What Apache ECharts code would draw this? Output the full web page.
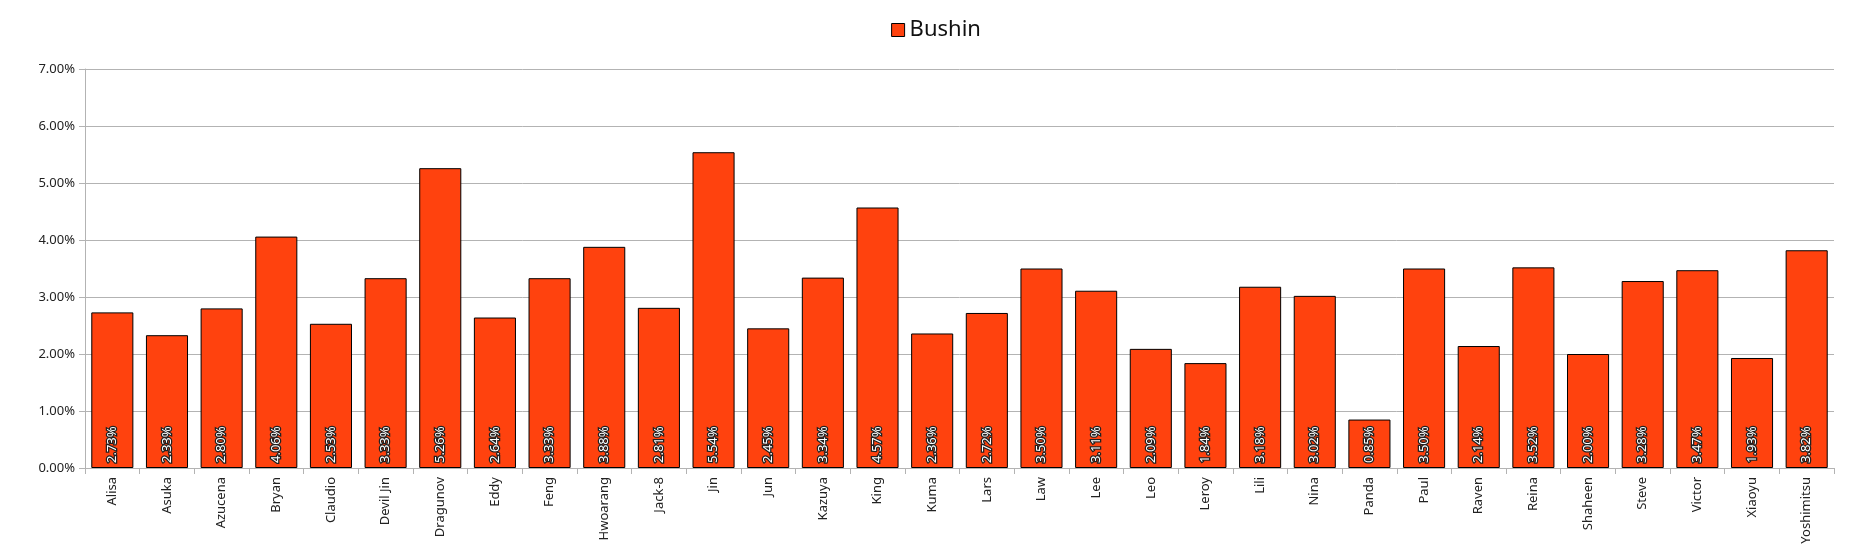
<!DOCTYPE html>
<html>
<head>
<meta charset="utf-8">
<script src="https://cdn.jsdelivr.net/npm/echarts@6/dist/echarts.min.js"></script>
<style>
html,body{margin:0;padding:0;background:#fff;}
#chart{width:1872px;height:553px;}
</style>
</head>
<body>
<div id="chart"></div>
<script>
const categories = ["Alisa","Asuka","Azucena","Bryan","Claudio","Devil Jin","Dragunov","Eddy","Feng","Hwoarang","Jack-8","Jin","Jun","Kazuya","King","Kuma","Lars","Law","Lee","Leo","Leroy","Lili","Nina","Panda","Paul","Raven","Reina","Shaheen","Steve","Victor","Xiaoyu","Yoshimitsu"];
const seriesName = "Bushin";
const values = [2.73,2.33,2.80,4.06,2.53,3.33,5.26,2.64,3.33,3.88,2.81,5.54,2.45,3.34,4.57,2.36,2.72,3.50,3.11,2.09,1.84,3.18,3.02,0.85,3.50,2.14,3.52,2.00,3.28,3.47,1.93,3.82];
const yMin = 0, yMax = 7, yStep = 1;

const chart = echarts.init(document.getElementById('chart'));
const font = '"Noto Sans", "Open Sans", sans-serif';
chart.setOption({
  animation: false,
  textStyle: { fontFamily: font },
  legend: {
    top: 14,
    left: 'center',
    icon: 'rect',
    itemWidth: 13,
    itemHeight: 13,
    itemGap: 6,
    textStyle: { fontSize: 22, color: '#111', fontFamily: font },
    itemStyle: { borderColor: '#000', borderWidth: 1 }
  },
  grid: { left: 85, right: 38, top: 69, bottom: 85, containLabel: false },
  xAxis: {
    type: 'category',
    data: categories,
    boundaryGap: true,
    axisLine: { lineStyle: { color: '#b3b3b3' } },
    axisTick: { show: true, length: 6, lineStyle: { color: '#b3b3b3' } },
    axisLabel: { rotate: 90, fontSize: 13, color: '#222', margin: 9, interval: 0, fontFamily: font }
  },
  yAxis: {
    type: 'value',
    min: yMin, max: yMax, interval: yStep,
    axisLine: { show: true, lineStyle: { color: '#b3b3b3' } },
    axisTick: { show: true, length: 6, lineStyle: { color: '#b3b3b3' } },
    splitLine: { lineStyle: { color: '#b3b3b3' } },
    axisLabel: { fontSize: 13, color: '#222', margin: 10, fontFamily: font, formatter: v => v.toFixed(2) + '%' }
  },
  series: [{
    name: seriesName,
    type: 'bar',
    data: values,
    barCategoryGap: '23%',
    itemStyle: { color: '#ff420e', borderColor: '#000', borderWidth: 1 },
    label: {
      show: true,
      position: 'insideBottom',
      rotate: 90,
      align: 'left',
      verticalAlign: 'middle',
      distance: 5,
      fontSize: 13,
      color: '#fff',
      textBorderColor: '#222',
      textBorderWidth: 2.5,
      fontFamily: font,
      formatter: p => p.value.toFixed(2) + '%'
    }
  }]
});
</script>
</body>
</html>
